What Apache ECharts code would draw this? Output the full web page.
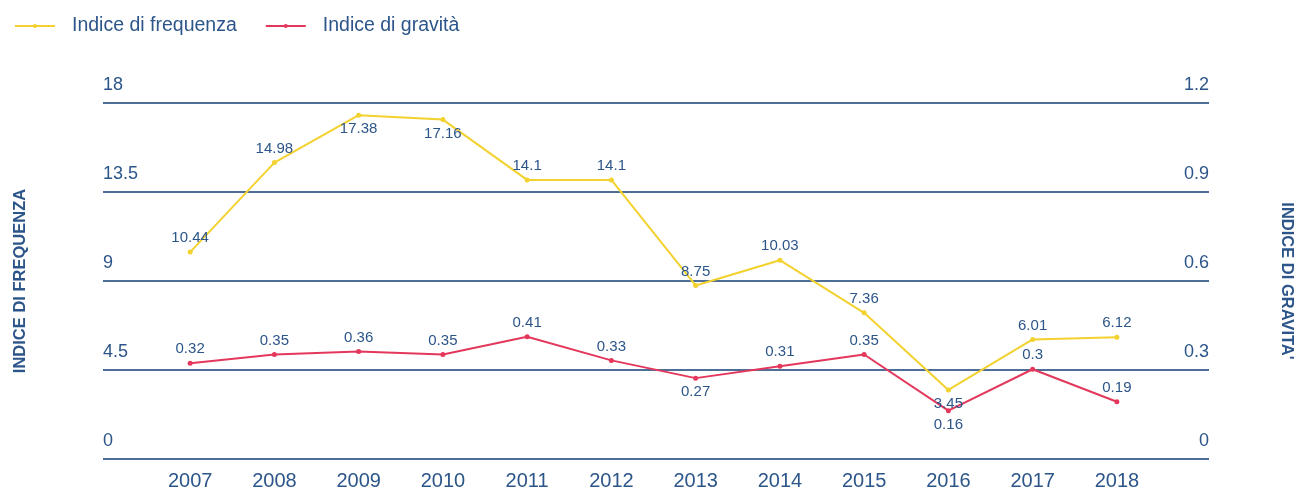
<!DOCTYPE html>
<html>
<head>
<meta charset="utf-8">
<script src="https://cdn.jsdelivr.net/npm/echarts@6/dist/echarts.min.js"></script>
<style>
  html, body { margin: 0; padding: 0; background: #ffffff; }
  #chart { width: 1303px; height: 491px; }
</style>
</head>
<body>
<div id="chart"></div>
<script>
// Anni e indici
const years = ['2007', '2008', '2009', '2010', '2011', '2012', '2013', '2014', '2015', '2016', '2017', '2018'];
const indiceFrequenza = [10.44, 14.98, 17.38, 17.16, 14.1, 14.1, 8.75, 10.03, 7.36, 3.45, 6.01, 6.12];
const indiceGravita = [0.32, 0.35, 0.36, 0.35, 0.41, 0.33, 0.27, 0.31, 0.35, 0.16, 0.3, 0.19];
const freqTicks = { min: 0, max: 18, interval: 4.5 };
const gravTicks = { min: 0, max: 1.2, interval: 0.3 };

// points whose value label sits under the marker
const freqLabelBelow = [2, 3, 9];
const gravLabelBelow = [6, 9];

const BLUE = '#2c5589';
const LINE = '#4d6e96';
const YELLOW = '#f3d12e';
const RED = '#e3385c';
const FONT = '"Liberation Sans", "DejaVu Sans", sans-serif';

function withLabelSide(values, below) {
  return values.map((v, i) => below.indexOf(i) >= 0
    ? { value: v, label: { position: 'bottom' } }
    : v);
}

const chart = echarts.init(document.getElementById('chart'));

const plotTop = 103, plotBottom = 32;

const valueLabel = {
  show: true, position: 'top', distance: 4,
  color: BLUE, fontSize: 15, fontFamily: FONT, letterSpacing: -1
};

chart.setOption({
  animation: false,
  textStyle: { fontFamily: FONT },
  legend: {
    left: 9,
    top: 11,
    itemWidth: 40,
    itemHeight: 5,
    itemGap: 28,
    textStyle: { color: BLUE, fontSize: 19.5, fontFamily: FONT, padding: [0, 0, 0, 12] },
    data: ['Indice di frequenza', 'Indice di gravità']
  },
  grid: [
    // frame carrying the horizontal guides and both value scales
    { left: 103, right: 91, top: plotTop, bottom: plotBottom },
    // plotting area for the yearly series
    { left: 148, right: 144, top: plotTop, bottom: plotBottom }
  ],
  xAxis: [
    { gridIndex: 0, type: 'category', data: years, show: false },
    {
      gridIndex: 1,
      type: 'category',
      data: years,
      boundaryGap: true,
      axisLine: { show: false },
      axisTick: { show: false },
      axisLabel: { color: BLUE, fontSize: 20, margin: 13, fontFamily: FONT, letterSpacing: 0.5 }
    }
  ],
  yAxis: [
    {
      gridIndex: 0,
      type: 'value',
      position: 'left',
      min: freqTicks.min, max: freqTicks.max, interval: freqTicks.interval,
      name: 'INDICE DI FREQUENZA',
      nameLocation: 'middle',
      nameGap: 74,
      nameRotate: 90,
      nameTextStyle: { color: BLUE, fontSize: 16.5, fontWeight: 'bold', fontFamily: FONT },
      axisLine: { show: false },
      axisTick: { show: false },
      axisLabel: {
        inside: true, margin: 0, verticalAlign: 'bottom',
        padding: [0, 0, 9, 0],
        color: BLUE, fontSize: 18, fontFamily: FONT
      },
      splitLine: { show: true, lineStyle: { color: LINE, width: 2 } }
    },
    {
      gridIndex: 0,
      type: 'value',
      position: 'right',
      min: gravTicks.min, max: gravTicks.max, interval: gravTicks.interval,
      name: "INDICE DI GRAVITA'",
      nameLocation: 'middle',
      nameGap: 69,
      nameRotate: -90,
      nameTextStyle: { color: BLUE, fontSize: 16.5, fontWeight: 'bold', fontFamily: FONT },
      axisLine: { show: false },
      axisTick: { show: false },
      axisLabel: {
        inside: true, margin: 0, verticalAlign: 'bottom',
        padding: [0, 0, 9, 0],
        color: BLUE, fontSize: 18, fontFamily: FONT,
        formatter: v => String(Math.round(v * 10) / 10)
      },
      splitLine: { show: false }
    },
    {
      gridIndex: 1, type: 'value', show: false,
      min: freqTicks.min, max: freqTicks.max, interval: freqTicks.interval,
      splitLine: { show: false }
    },
    {
      gridIndex: 1, type: 'value', show: false,
      min: gravTicks.min, max: gravTicks.max, interval: gravTicks.interval,
      splitLine: { show: false }
    }
  ],
  series: [
    {
      name: 'Indice di frequenza',
      type: 'line',
      xAxisIndex: 1,
      yAxisIndex: 2,
      data: withLabelSide(indiceFrequenza, freqLabelBelow),
      color: YELLOW,
      symbol: 'circle',
      symbolSize: 5,
      lineStyle: { color: YELLOW, width: 2 },
      itemStyle: { color: YELLOW },
      label: valueLabel
    },
    {
      name: 'Indice di gravità',
      type: 'line',
      xAxisIndex: 1,
      yAxisIndex: 3,
      data: withLabelSide(indiceGravita, gravLabelBelow),
      color: RED,
      symbol: 'circle',
      symbolSize: 5,
      lineStyle: { color: RED, width: 2 },
      itemStyle: { color: RED },
      label: valueLabel
    }
  ]
});
</script>
</body>
</html>
